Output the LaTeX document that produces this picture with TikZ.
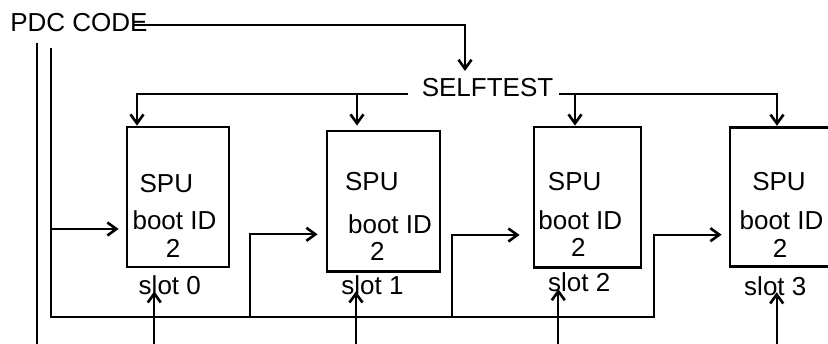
\documentclass[tikz,border=0pt]{standalone}
\usepackage{fontspec}
\setmainfont{Liberation Sans}
\usetikzlibrary{arrows.meta,calc}
\begin{document}
\begin{tikzpicture}[x=1pt,y=-1pt,
  wire/.style={line width=2.3pt},
  arr/.style={wire,-{Straight Barb[length=9pt,width=13pt,line width=2.6pt]}},
  box/.style={draw,line width=2.8pt,inner sep=0pt},
  lbl/.style={inner sep=0pt,anchor=base,font=\fontsize{26}{30}\selectfont}]
\useasboundingbox (0,0) rectangle (828,343);
\clip (0,0) rectangle (828,343);

% SPU boxes
\node[box,minimum width=102pt,minimum height=140pt]   (b0) at (178,197)     {};
\node[box,minimum width=113pt,minimum height=140.7pt] (b1) at (383.5,201.3) {};
\node[box,minimum width=107pt,minimum height=140.7pt] (b2) at (587.5,197.3) {};
\node[box,minimum width=106pt,minimum height=139pt]   (b3) at (783,196.7)   {};

% labels
\node[lbl] (pdc) at (79,31.7)    {PDC CODE};
\node[lbl] (st)  at (487.5,96.7) {SELFTEST};

\node[lbl] (spu0)  at (166.3,192)   {SPU};
\node[lbl] (id0)   at (174.5,229)   {boot ID};
\node[lbl] (n0)    at (173,257.7)   {2};
\node[lbl] (slot0) at (169.8,294)   {slot 0};

\node[lbl] (spu1)  at (371.8,190.7) {SPU};
\node[lbl] (id1)   at (390,233)     {boot ID};
\node[lbl] (n1)    at (377.3,260.7) {2};
\node[lbl] (slot1) at (372.5,294)   {slot 1};

\node[lbl] (spu2)  at (574.7,190)   {SPU};
\node[lbl] (id2)   at (580.3,229)   {boot ID};
\node[lbl] (n2)    at (578.3,256)   {2};
\node[lbl] (slot2) at (579.2,291.7) {slot 2};

\node[lbl] (spu3)  at (779,190.7)   {SPU};
\node[lbl] (id3)   at (781.5,229)   {boot ID};
\node[lbl] (n3)    at (780,257.7)   {2};
\node[lbl] (slot3) at (775.3,295)   {slot 3};

% PDC CODE feeds SELFTEST
\draw[arr] ([shift={(-15,-7)}]pdc.base east) -| ($(st.north)+(-22.5,-7.4)$);

% SELFTEST fans out to every box
\coordinate (d0) at (137,93.7);
\coordinate (d1) at (357,93.7);
\coordinate (d2) at (575,93.7);
\coordinate (d3) at (777,93.7);
\draw[arr] ([shift={(-14,-3)}]st.base west) -- (d0) -- (d0 |- b0.north);
\draw[arr,shorten >=4pt] (d1) -- (d1 |- b1.north);
\draw[arr] ([shift={(6,-3)}]st.base east) -- (d3) -- (d3 |- b3.north);
\draw[arr] (d2) -- (d2 |- b2.north);

% PDC CODE feed lines and boot bus
\coordinate (fa)  at (37,43);
\coordinate (fb)  at (50.7,48);
\coordinate (bus) at (654,317.3);
\coordinate (j1)  at (250,317.3);
\coordinate (j2)  at (451.7,317.3);
\coordinate (b0in) at ($(b0.west)+(-7,32)$);
\draw[wire] (fa) -- (37,350);
\draw[arr] (fb) |- (bus) |- ($(b3.west)+(-7,38)$);
\draw[arr] (fb |- b0in) -- (b0in);
\draw[arr] (j1) |- ($(b1.west)+(-8,33)$);
\draw[arr] (j2) |- ($(b2.west)+(-13,37.7)$);

% slot inputs from below
\coordinate (u0) at (154.3,350);
\coordinate (u1) at (356,350);
\coordinate (u2) at (558.3,350);
\coordinate (u3) at (776.7,350);
\draw[arr,shorten >=-2.7pt] (u0) -- (u0 |- slot0.base);
\draw[arr,shorten >=-2.7pt] (u1) -- (u1 |- slot1.base);
\draw[arr,shorten >=-2.7pt] (u2) -- (u2 |- slot2.base);
\draw[arr,shorten >=-2.7pt] (u3) -- (u3 |- slot3.base);
\end{tikzpicture}
\end{document}
